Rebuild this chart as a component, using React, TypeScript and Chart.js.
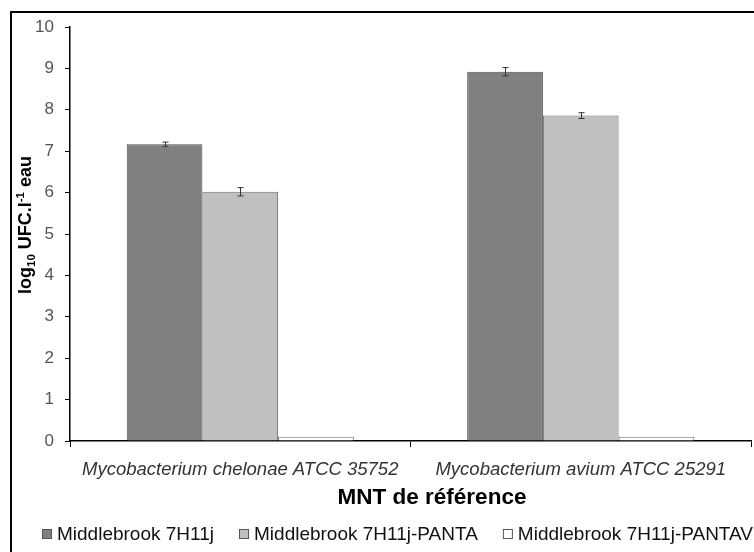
import React, { useEffect, useRef } from "react";
import { Chart, registerables } from "chart.js";

Chart.register(...registerables);

const categories = ["Mycobacterium chelonae ATCC 35752", "Mycobacterium avium ATCC 25291"];
const seriesNames = ["Middlebrook 7H11j", "Middlebrook 7H11j-PANTA", "Middlebrook 7H11j-PANTAV"];
const values7H11j = [7.17, 8.92];
const valuesPANTA = [6.02, 7.86];
const valuesPANTAV = [0.1, 0.1];
const err7H11j = [0.05, 0.1];
const errPANTA = [0.1, 0.07];
const errPANTAV = [0, 0];
const yTicks = [0, 1, 2, 3, 4, 5, 6, 7, 8, 9, 10];
const yTitleParts = [
  { t: "log", k: "n" },
  { t: "10", k: "sub" },
  { t: " UFC.l", k: "n" },
  { t: "-1", k: "sup" },
  { t: " eau", k: "n" },
];
const xTitle = "MNT de référence";

const FONT = "'Liberation Sans', Arial, sans-serif";

const errorBars = {
  id: "errorBars",
  afterDatasetsDraw(chart: any) {
    const ctx = chart.ctx;
    const y = chart.scales.y;
    const errs = [err7H11j, errPANTA, errPANTAV];
    ctx.save();
    ctx.strokeStyle = "#333";
    ctx.lineWidth = 1;
    chart.data.datasets.forEach((ds: any, i: number) => {
      const meta = chart.getDatasetMeta(i);
      meta.data.forEach((bar: any, j: number) => {
        const e = errs[i][j];
        if (!e) return;
        const v = ds.data[j];
        const top = y.getPixelForValue(v + e);
        const bot = y.getPixelForValue(v - e);
        const x = Math.round(bar.x) + 0.5;
        ctx.beginPath();
        ctx.moveTo(x, top);
        ctx.lineTo(x, bot);
        ctx.moveTo(x - 3, top);
        ctx.lineTo(x + 3, top);
        ctx.moveTo(x - 3, bot);
        ctx.lineTo(x + 3, bot);
        ctx.stroke();
      });
    });
    ctx.restore();
  },
};

const decorations = {
  id: "decorations",
  afterDraw(chart: any) {
    const ctx = chart.ctx;
    ctx.save();
    // outer frame
    ctx.strokeStyle = "#000";
    ctx.lineWidth = 2;
    ctx.strokeRect(11, 12, 800, 600);

    // y title with subscript / superscript
    const big = `bold 18px ${FONT}`;
    const small = `bold 11.5px ${FONT}`;
    let total = 0;
    const widths = yTitleParts.map((p) => {
      ctx.font = p.k === "n" ? big : small;
      const w = ctx.measureText(p.t).width;
      total += w;
      return w;
    });
    ctx.translate(31, 225);
    ctx.rotate(-Math.PI / 2);
    ctx.fillStyle = "#000";
    ctx.textBaseline = "alphabetic";
    ctx.textAlign = "left";
    let x = -total / 2;
    yTitleParts.forEach((p, i) => {
      ctx.font = p.k === "n" ? big : small;
      const dy = p.k === "sub" ? 4 : p.k === "sup" ? -7 : 0;
      ctx.fillText(p.t, x, dy);
      x += widths[i];
    });
    ctx.setTransform(1, 0, 0, 1, 0, 0);

    // x title
    ctx.font = `bold 22.5px ${FONT}`;
    ctx.textAlign = "center";
    ctx.textBaseline = "middle";
    ctx.fillStyle = "#000";
    ctx.fillText(xTitle, 432, 498);

    // legend
    ctx.font = `19px ${FONT}`;
    ctx.textAlign = "left";
    let lx = 42;
    const ly = 534;
    chart.data.datasets.forEach((ds: any) => {
      ctx.fillStyle = ds.backgroundColor;
      ctx.fillRect(lx, ly - 5, 10, 10);
      ctx.strokeStyle = "#555";
      ctx.lineWidth = 1;
      ctx.strokeRect(lx + 0.5, ly - 4.5, 9, 9);
      ctx.fillStyle = "#111";
      ctx.fillText(ds.label, lx + 15, ly + 1);
      lx += 15 + ctx.measureText(ds.label).width + 25;
    });
    ctx.restore();
  },
};

export default function App() {
  const ref = useRef<HTMLCanvasElement>(null);
  useEffect(() => {
    if (!ref.current) return;
    const chart = new Chart(ref.current, {
      type: "bar",
      data: {
        labels: categories,
        datasets: [
          { label: seriesNames[0], data: values7H11j, backgroundColor: "#808080", borderColor: "#4d4d4d", borderWidth: 1 },
          { label: seriesNames[1], data: valuesPANTA, backgroundColor: "#c0c0c0", borderColor: "#6e6e6e", borderWidth: 1 },
          { label: seriesNames[2], data: valuesPANTAV, backgroundColor: "#ffffff", borderColor: "#6e6e6e", borderWidth: 1 },
        ],
      },
      options: {
        animation: false,
        responsive: false,
        maintainAspectRatio: false,
        datasets: { bar: { categoryPercentage: 0.667, barPercentage: 1 } },
        layout: { padding: { top: 27, right: 3, left: 0, bottom: 0 } },
        plugins: {
          tooltip: { enabled: false },
          legend: { display: false },
        },
        scales: {
          x: {
            offset: true,
            afterFit: (s: any) => { s.height = 111; },
            grid: { display: true, offset: true, drawOnChartArea: false, drawTicks: true, tickLength: 6, color: "#000", lineWidth: 1 },
            border: { display: true, color: "#000", width: 1.5 },
            ticks: { font: { family: FONT, size: 18.5, style: "italic" }, color: "#333", padding: 12, maxRotation: 0, autoSkip: false },
          },
          y: {
            min: 0,
            max: 10,
            afterBuildTicks: (s: any) => { s.ticks = yTicks.map((v) => ({ value: v })); },
            afterFit: (s: any) => { s.width = 70; },
            grid: { display: true, drawOnChartArea: false, drawTicks: true, tickLength: 5, color: "#000" },
            border: { display: true, color: "#000", width: 1.5 },
            ticks: { font: { family: FONT, size: 17 }, color: "#555", padding: 11 },
          },
        },
      },
      plugins: [errorBars, decorations],
    } as any);
    return () => chart.destroy();
  }, []);
  return (
    <div style={{ position: "fixed", left: 0, top: 0, width: 754, height: 552, background: "#fff" }}>
      <canvas ref={ref} width={754} height={552} style={{ width: 754, height: 552 }} />
    </div>
  );
}
